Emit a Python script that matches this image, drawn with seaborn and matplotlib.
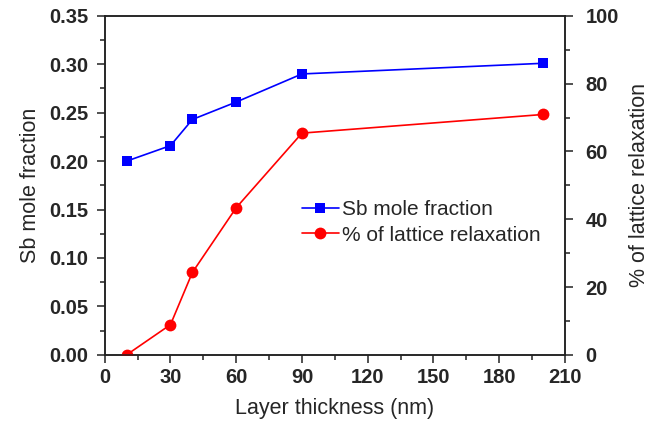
import matplotlib
matplotlib.use("Agg")
import matplotlib.pyplot as plt
from matplotlib.ticker import MultipleLocator
import seaborn as sns
import pandas as pd

thickness = [10, 30, 40, 60, 90, 200]
sb_fraction = [0.200, 0.216, 0.243, 0.261, 0.290, 0.301]
relaxation = [0.0, 8.9, 24.3, 43.4, 65.4, 70.9]

sns.set_style("ticks")
plt.rcParams["font.family"] = ["Liberation Sans", "DejaVu Sans"]

df1 = pd.DataFrame({"x": thickness, "y": sb_fraction})
df2 = pd.DataFrame({"x": thickness, "y": relaxation})

fig = plt.figure(figsize=(6.63, 4.28), dpi=100)
ax = fig.add_axes([0.158, 0.171, 0.694, 0.792])
ax2 = ax.twinx()

sns.lineplot(data=df1, x="x", y="y", ax=ax, color="#0000ff", marker="s",
             markersize=7.5, markeredgewidth=0, linewidth=1.2,
             label="Sb mole fraction", legend=False)
sns.lineplot(data=df2, x="x", y="y", ax=ax2, color="#ff0000", marker="o",
             markersize=8.5, markeredgewidth=0, linewidth=1.2,
             label="% of lattice relaxation", legend=False)

ax.set_xlim(0, 210)
ax.set_ylim(0, 0.35)
ax2.set_ylim(0, 100)
ax.xaxis.set_major_locator(MultipleLocator(30))
ax.xaxis.set_minor_locator(MultipleLocator(15))
ax.yaxis.set_major_locator(MultipleLocator(0.05))
ax.yaxis.set_minor_locator(MultipleLocator(0.025))
ax2.yaxis.set_major_locator(MultipleLocator(20))
ax2.yaxis.set_minor_locator(MultipleLocator(10))
ax.yaxis.set_major_formatter(matplotlib.ticker.FormatStrFormatter("%.2f"))

for a in (ax, ax2):
    for s in a.spines.values():
        s.set_visible(True)
        s.set_linewidth(1.1)
        s.set_color("#222222")
    a.tick_params(which="major", length=6, width=1.1, direction="out",
                  labelsize=14.5, color="#222222")
    a.tick_params(which="minor", length=3.5, width=1.1, direction="out",
                  color="#222222")
    for lab in a.get_xticklabels() + a.get_yticklabels():
        lab.set_fontweight("bold")
ax.tick_params(axis="y", which="major", pad=6)
ax2.tick_params(axis="y", which="major", pad=9)

ax.set_xlabel("Layer thickness (nm)", fontsize=15.5, labelpad=8)
ax.set_ylabel("Sb mole fraction", fontsize=15.5, labelpad=6)
ax2.set_ylabel("% of lattice relaxation", fontsize=15.5, labelpad=7)

h1, l1 = ax.get_legend_handles_labels()
h2, l2 = ax2.get_legend_handles_labels()
ax2.legend(h1 + h2, l1 + l2, frameon=False, fontsize=15,
           loc="upper left", bbox_to_anchor=(0.41, 0.48),
           handlelength=1.8, handletextpad=0.15, labelspacing=0.3,
           borderaxespad=0)

fig.savefig("out.png", dpi=100)
